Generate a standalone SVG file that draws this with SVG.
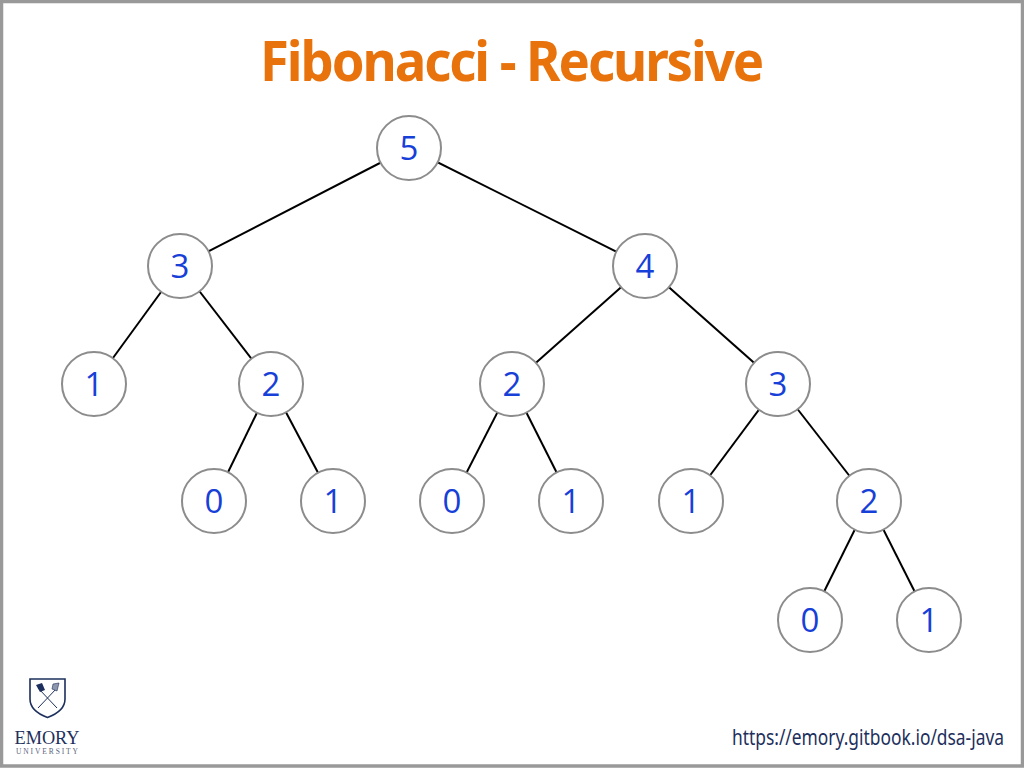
<svg xmlns="http://www.w3.org/2000/svg" width="1024" height="768" viewBox="0 0 1024 768">
<style>
.n circle{fill:#fff;stroke:#8c8c8c;stroke-width:2}
.n text{font-family:"Open Sans","Noto Sans",sans-serif;font-size:33px;fill:#1740d8;text-anchor:middle}
#connectors line{stroke:#000;stroke-width:2}
</style>
<rect x="1.500" y="1.500" width="1021" height="764.500" fill="#fff" stroke="#999" stroke-width="3.500"/>
<text x="511" y="81" text-anchor="middle" font-family="'Noto Sans','Open Sans',sans-serif" font-weight="700" font-size="56" letter-spacing="-2.200" fill="#e8720c" textLength="502" lengthAdjust="spacingAndGlyphs">Fibonacci - Recursive</text>
<g id="connectors">
<line x1="409" y1="148" x2="180" y2="266"/>
<line x1="409" y1="148" x2="645" y2="266"/>
<line x1="180" y1="266" x2="94" y2="384"/>
<line x1="180" y1="266" x2="271" y2="384"/>
<line x1="645" y1="266" x2="512" y2="384"/>
<line x1="645" y1="266" x2="778" y2="384"/>
<line x1="271" y1="384" x2="214" y2="501"/>
<line x1="271" y1="384" x2="333" y2="501"/>
<line x1="512" y1="384" x2="452" y2="501"/>
<line x1="512" y1="384" x2="571" y2="501"/>
<line x1="778" y1="384" x2="691" y2="501"/>
<line x1="778" y1="384" x2="869" y2="501"/>
<line x1="869" y1="501" x2="810" y2="620"/>
<line x1="869" y1="501" x2="929" y2="620"/>
</g>
<g id="n1" class="n"><circle cx="409" cy="148" r="32"/><text x="409" y="160">5</text></g>
<g id="n2" class="n"><circle cx="180" cy="266" r="32"/><text x="180" y="278">3</text></g>
<g id="n3" class="n"><circle cx="645" cy="266" r="32"/><text x="645" y="278">4</text></g>
<g id="n4" class="n"><circle cx="94" cy="384" r="32"/><text x="94" y="396">1</text></g>
<g id="n5" class="n"><circle cx="271" cy="384" r="32"/><text x="271" y="396">2</text></g>
<g id="n6" class="n"><circle cx="512" cy="384" r="32"/><text x="512" y="396">2</text></g>
<g id="n7" class="n"><circle cx="778" cy="384" r="32"/><text x="778" y="396">3</text></g>
<g id="n8" class="n"><circle cx="214" cy="501" r="32"/><text x="214" y="513">0</text></g>
<g id="n9" class="n"><circle cx="333" cy="501" r="32"/><text x="333" y="513">1</text></g>
<g id="n10" class="n"><circle cx="452" cy="501" r="32"/><text x="452" y="513">0</text></g>
<g id="n11" class="n"><circle cx="571" cy="501" r="32"/><text x="571" y="513">1</text></g>
<g id="n12" class="n"><circle cx="691" cy="501" r="32"/><text x="691" y="513">1</text></g>
<g id="n13" class="n"><circle cx="869" cy="501" r="32"/><text x="869" y="513">2</text></g>
<g id="n14" class="n"><circle cx="810" cy="620" r="32"/><text x="810" y="632">0</text></g>
<g id="n15" class="n"><circle cx="929" cy="620" r="32"/><text x="929" y="632">1</text></g>
<g id="logo">
<path d="M30 679H65V699Q65 711 47.500 717.500Q30 711 30 699Z" fill="#fff" stroke="#1d2f5c" stroke-width="1.600"/>
<path d="M38 688L57 708M57 688L38 708" stroke="#1d2f5c" stroke-width="1" fill="none"/>
<path d="M36 685L42 683L45 690L40 692Z" fill="#1d2f5c"/>
<path d="M53 684L59 683L57 691L52 689Z" fill="#8d97ad" stroke="#1d2f5c" stroke-width="0.600"/>
<text x="47" y="744" text-anchor="middle" font-family="'Liberation Serif',serif" font-size="19" fill="#1d2f5c" textLength="65" lengthAdjust="spacingAndGlyphs">EMORY</text>
<text x="47" y="754" text-anchor="middle" font-family="'Liberation Serif',serif" font-size="7.500" fill="#5c647c" textLength="62">UNIVERSITY</text>
</g>
<text transform="translate(1004 745) scale(.79 1)" text-anchor="end" font-family="'Noto Sans','Open Sans',sans-serif" font-size="22" fill="#1d2f5c">https://emory.gitbook.io/dsa-java</text>
</svg>
